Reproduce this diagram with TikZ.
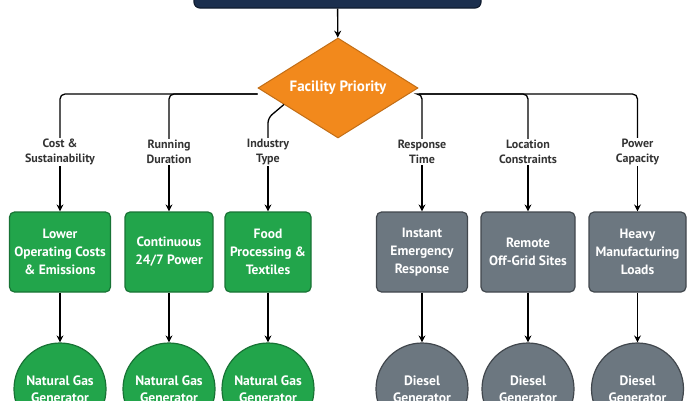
\documentclass[tikz,border=0pt]{standalone}
\usepackage{fontspec}
\setmainfont{PT Sans}
\usetikzlibrary{shapes.geometric, arrows.meta, positioning}
\definecolor{topnavy}{HTML}{1B2F4E}
\definecolor{prioorange}{HTML}{F2891C}
\definecolor{gasgreen}{HTML}{22A54B}
\definecolor{dieselgray}{HTML}{6C7780}

\begin{document}
\begin{tikzpicture}[x=1pt, y=-1pt,
    conn/.style={draw=black, line width=1.3pt, rounded corners=5pt},
    arr/.style={conn, -{Stealth[length=7pt, width=7pt]}},
    crit/.style={font=\bfseries\fontsize{12}{15}\selectfont, text=black!80, align=center, inner sep=1pt},
    gasbox/.style={draw=gasgreen!70!black, fill=gasgreen, line width=1.2pt, rounded corners=5pt,
        minimum height=80pt, text=white, align=center, font=\bfseries\fontsize{13.5}{18}\selectfont},
    dieselbox/.style={gasbox, draw=dieselgray!60!black, fill=dieselgray},
    gasgen/.style={circle, draw=gasgreen!70!black, fill=gasgreen, line width=1.2pt, minimum size=92pt,
        inner sep=0pt, text=white, align=center, font=\bfseries\fontsize{13.6}{17}\selectfont},
    dieselgen/.style={gasgen, draw=dieselgray!60!black, fill=dieselgray}]
  \clip (0,0) rectangle (700,400);

  \node[draw=topnavy!60!black, fill=topnavy, line width=1.2pt, rounded corners=6pt,
        minimum width=287pt, minimum height=40pt] (top) at (337.5,-12) {};
  \node[diamond, aspect=1.6, draw=prioorange!80!black, fill=prioorange, line width=1pt,
        minimum width=160pt, minimum height=100pt, inner sep=0pt, text=white,
        font=\bfseries\fontsize{15}{18}\selectfont] (prio) at (338,88) {Facility Priority};
  \draw[arr] (top) -- (prio);

  \node[crit] (crit1) at (60,152) {Cost \&\\Sustainability};
  \node[crit] (crit2) at (169,152) {Running\\Duration};
  \node[crit] (crit3) at (268,152) {Industry\\Type};
  \node[crit] (crit4) at (422,152) {Response\\Time};
  \node[crit] (crit5) at (528,152) {Location\\Constraints};
  \node[crit] (crit6) at (637.5,152) {Power\\Capacity};

  \draw[conn] ([yshift=-6pt]prio.west) -| (crit1.north);
  \draw[conn] ([yshift=-6pt]prio.west) -| (crit2.north);
  \draw[conn] (prio.197) -- (crit3.north |- 0,118) -- (crit3.north);
  \draw[conn] ([yshift=-6pt]prio.east) -| (crit4.north);
  \draw[conn] ([yshift=-6pt]prio.east) -| (crit5.north);
  \draw[conn] ([yshift=-6pt]prio.east) -| (crit6.north);

  \node[gasbox, minimum width=101pt] (need1) at (60,252) {Lower\\Operating Costs\\\& Emissions};
  \node[gasbox, minimum width=88pt] (need2) at (169,252) {Continuous\\24/7 Power};
  \node[gasbox, minimum width=86pt] (need3) at (268,252) {Food\\Processing \&\\Textiles};
  \node[dieselbox, minimum width=91pt] (need4) at (422,252) {Instant\\Emergency\\Response};
  \node[dieselbox, minimum width=94pt] (need5) at (528,252) {Remote\\Off-Grid Sites};
  \node[dieselbox, minimum width=97pt] (need6) at (637.5,252) {Heavy\\Manufacturing\\Loads};

  \node[gasgen] (gen1) at (60,389) {Natural Gas\\Generator};
  \node[gasgen] (gen2) at (169,389) {Natural Gas\\Generator};
  \node[gasgen] (gen3) at (268,389) {Natural Gas\\Generator};
  \node[dieselgen] (gen4) at (422,389) {Diesel\\Generator};
  \node[dieselgen] (gen5) at (528,389) {Diesel\\Generator};
  \node[dieselgen] (gen6) at (637.5,389) {Diesel\\Generator};

  \draw[arr] (crit1) -- (need1);
  \draw[arr] (crit2) -- (need2);
  \draw[arr] (crit3) -- (need3);
  \draw[arr] (crit4) -- (need4);
  \draw[arr] (crit5) -- (need5);
  \draw[arr] (crit6) -- (need6);
  \draw[arr] (need1) -- (gen1);
  \draw[arr] (need2) -- (gen2);
  \draw[arr] (need3) -- (gen3);
  \draw[arr] (need4) -- (gen4);
  \draw[arr] (need5) -- (gen5);
  \draw[arr] (need6) -- (gen6);
\end{tikzpicture}
\end{document}
